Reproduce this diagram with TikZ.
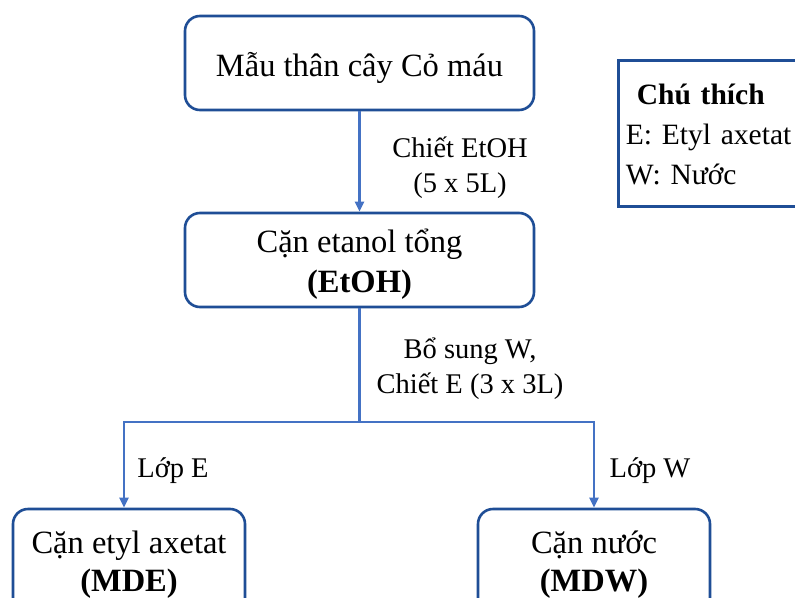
\documentclass[tikz,border=0pt]{standalone}
\usepackage{fontspec}
\setmainfont{Liberation Serif}
\usetikzlibrary{arrows.meta,calc}
\definecolor{boxblue}{HTML}{1F4E96}
\definecolor{lineblue}{HTML}{4472C4}
\newcommand\lowered[2]{\raisebox{-#1}[\height][\depth]{#2}}
\frenchspacing
\tikzset{
  procbox/.style={draw=boxblue, line width=2.6pt, rounded corners=15pt, fill=white,
    minimum width=349pt, minimum height=94pt, align=center,
    font=\fontsize{32.5}{40}\selectfont, inner sep=0pt},
  resbox/.style={procbox, minimum width=232pt, minimum height=110pt},
  conn/.style={draw=lineblue, line width=2.3pt},
  arr/.style={conn, -{Triangle[length=10pt,width=9pt]}},
  lbl/.style={align=center, font=\fontsize{28.5}{35}\selectfont, inner sep=0pt},
  legendbox/.style={draw=boxblue, line width=2.6pt, fill=white, anchor=north west,
    minimum width=200pt, minimum height=146pt, align=left, text width=185pt,
    inner xsep=2.5pt, font=\fontsize{29.5}{40}\selectfont}
}
\begin{document}
\begin{tikzpicture}[x=1pt,y=-1pt]
\useasboundingbox (0,0) rectangle (795,597);
\clip (0,0) rectangle (795,597);
\fill[white] (0,0) rectangle (795,597);

\node[procbox] (sample) at (359.5,63) {\lowered{5pt}{Mẫu thân cây Cỏ máu}};
\node[procbox] (etoh) at (359.5,260) {\lowered{4pt}{\begin{tabular}{@{}c@{}}Cặn etanol tổng\\\textbf{(EtOH)}\end{tabular}}};
\node[resbox] (mde) at (129,564) {\begin{tabular}{@{}c@{}}Cặn etyl axetat\\[-2pt]\textbf{(MDE)}\end{tabular}};
\node[resbox] (mdw) at (594,564) {\begin{tabular}{@{}c@{}}Cặn nước\\[-2pt]\textbf{(MDW)}\end{tabular}};

\node[legendbox] (legend) at (617,59) {\lowered{3pt}{\begin{tabular}{@{}l@{}}\hspace{11pt}\textbf{Chú thích}\\E: Etyl axetat\\W: Nước\end{tabular}}};

\coordinate (split) at (359.5,422);
\coordinate (left) at (124,422);
\coordinate (right) at (594,422);

\draw[arr] (sample) -- (etoh);
\draw[conn] (etoh) -- (split);
\draw[arr] (split) -- (left) -- (left |- mde.north);
\draw[arr] (split) -- (right) -- (right |- mdw.north);

\node[lbl] (l1) at (460,168) {Chiết EtOH\\(5 x 5L)};
\node[lbl] (l2) at (470,369) {Bổ sung W,\\Chiết E (3 x 3L)};
\node[lbl] (l3) at (173,471) {Lớp E};
\node[lbl] (l4) at (650,471) {Lớp W};
\end{tikzpicture}
\end{document}
